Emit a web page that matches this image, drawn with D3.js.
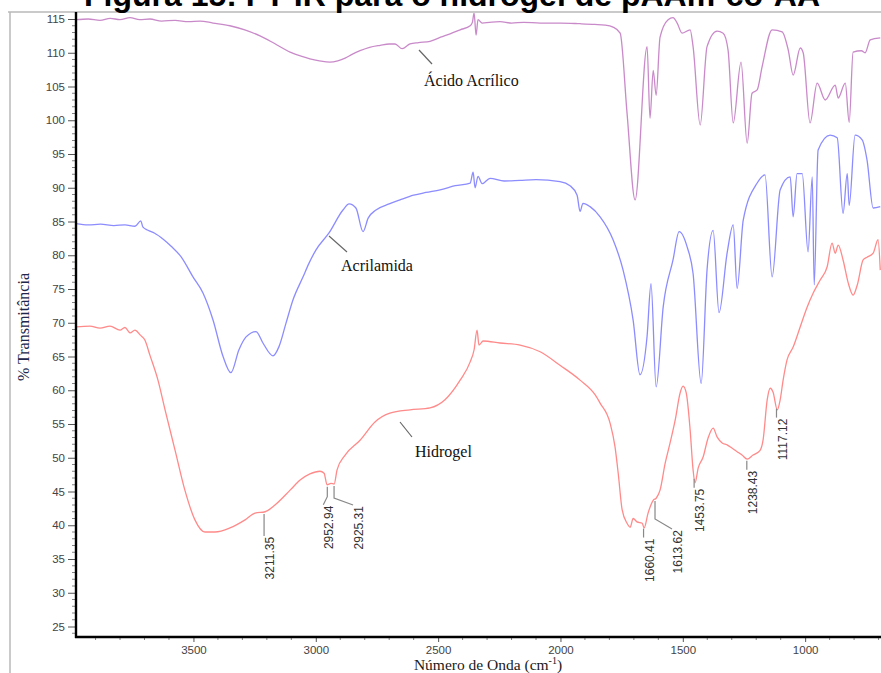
<!DOCTYPE html>
<html>
<head>
<meta charset="utf-8">
<script src="https://cdn.jsdelivr.net/npm/d3@7"></script>
<style>
  html, body { margin: 0; padding: 0; background: #fff; }
  svg { display: block; }
</style>
</head>
<body>
<svg id="chart" width="881" height="673"></svg>
<script>
// FT-IR spectra: wavenumber (cm-1) and % transmittance for each sample
const acidoWave = [3980,3930,3882,3840,3800,3759,3720,3678,3630,3575,3520,3473,3420,3351,3290,3228,3170,3105,3060,3024,2985,2942,2910,2880,2850,2819,2780,2737,2700,2676,2647,2615,2580,2533,2490,2451,2410,2369,2360,2353,2345,2337,2320,2290,2247,2200,2150,2083,2000,1920,1860,1818,1785,1756,1728,1695,1646,1634,1621,1609,1593,1560,1540,1523,1503,1470,1458,1429,1401,1360,1335,1315,1294,1262,1237,1217,1196,1176,1135,1094,1069,1049,1020,1008,980,951,918,877,865,836,820,804,770,755,734,693];
const acidoT    = [114.9,115.0,114.8,115.1,114.9,115.2,114.9,115.0,114.7,114.8,114.6,114.7,114.4,114.0,113.4,112.5,111.4,110.1,109.5,109.1,108.8,108.6,108.8,109.2,109.8,110.3,110.8,111.1,111.3,111.3,110.6,111.3,111.5,111.7,112.3,112.8,113.4,114.0,114.5,115.9,112.6,114.9,114.4,114.5,114.6,114.4,114.5,114.4,114.4,114.3,114.2,114.1,113.8,112.9,101.1,88.2,110.9,100.3,107.4,103.7,112.3,114.9,115.2,114.4,112.9,113.4,110.9,99.3,110.9,113.2,112.9,110.4,99.6,108.6,96.6,104.0,104.5,107.9,113.4,113.1,110.4,106.7,110.7,110.0,99.6,105.5,103.0,105.2,103.3,105.5,99.7,110.1,110.3,110.0,111.9,112.2];

const acrilWave = [3980,3930,3880,3825,3780,3739,3715,3707,3686,3660,3621,3590,3551,3502,3461,3420,3379,3347,3314,3285,3244,3216,3175,3150,3122,3093,3052,3028,2999,2946,2889,2864,2836,2807,2786,2754,2700,2656,2600,2550,2492,2430,2369,2357,2349,2337,2320,2288,2230,2165,2100,2002,1961,1932,1920,1908,1879,1838,1785,1744,1703,1675,1646,1630,1609,1580,1540,1515,1482,1458,1425,1401,1376,1352,1319,1294,1278,1253,1196,1164,1135,1102,1061,1049,1033,1012,988,971,963,947,898,869,845,828,820,796,767,747,722,693];
const acrilT    = [84.7,84.5,84.6,84.4,84.5,84.3,85.1,84.2,83.7,83.3,82.3,81.3,79.8,76.8,74.4,70.4,65.0,62.6,66.0,67.9,68.7,67.0,65.1,66.5,69.9,73.4,76.8,78.8,80.8,83.3,86.7,87.6,87.0,83.5,85.5,86.7,87.6,88.2,88.9,89.3,89.7,90.3,90.7,92.3,90.0,91.7,90.6,91.4,91.0,91.1,91.2,90.9,90.3,88.9,86.5,87.7,87.2,85.7,82.3,77.8,70.4,62.3,68.0,75.8,60.5,72.4,79.3,83.5,81.2,77.3,61.0,77.8,83.7,71.5,80.3,84.5,75.1,85.2,90.7,91.9,76.8,89.7,91.6,85.7,92.1,92.1,80.5,91.6,75.6,95.6,97.8,97.4,86.2,92.1,87.4,97.8,97.1,94.1,87.0,87.2];

const hidroWave = [3980,3923,3882,3841,3800,3780,3759,3739,3718,3698,3678,3645,3616,3575,3535,3494,3453,3412,3351,3289,3248,3207,3167,3105,3064,3024,2983,2966,2954,2938,2925,2913,2880,2819,2758,2697,2615,2533,2472,2410,2369,2353,2341,2333,2316,2247,2165,2083,2002,1920,1858,1838,1797,1777,1764,1748,1728,1715,1703,1687,1666,1658,1642,1621,1609,1593,1572,1552,1531,1511,1499,1486,1470,1458,1450,1437,1417,1397,1376,1360,1339,1319,1298,1278,1258,1237,1213,1184,1172,1155,1143,1131,1114,1102,1090,1074,1049,1020,992,967,939,910,890,877,865,845,824,804,787,763,747,722,702,693];
const hidroT    = [69.4,69.5,69.2,69.5,68.9,69.3,68.5,68.9,68.2,67.4,65.2,61.5,57.1,51.1,45.2,40.8,39.0,39.0,39.6,40.8,41.8,42.0,43.0,45.2,46.7,47.6,48.0,47.7,46.0,46.2,46.1,48.2,50.4,52.6,55.3,56.6,57.1,57.4,58.6,61.5,64.2,66.0,68.9,66.7,67.3,67.0,66.7,65.7,63.7,61.5,59.3,58.1,55.1,51.6,47.7,42.3,40.3,39.7,41.0,40.5,40.3,39.6,41.8,43.7,44.0,45.2,49.2,52.2,55.6,59.6,60.6,59.6,54.1,48.2,46.3,48.5,50.1,52.9,54.4,53.1,52.2,51.9,51.4,50.9,50.4,49.8,50.4,51.1,52.6,58.6,60.3,59.7,57.1,58.6,61.5,64.5,66.4,69.4,72.3,74.4,76.3,78.3,81.8,80.3,81.5,79.3,75.9,74.1,75.6,79.3,79.7,80.3,82.3,77.8];

// Peak positions marked on the hydrogel spectrum
const peakLabels = ["3211.35","2952.94","2925.31","1660.41","1613.62","1453.75","1238.43","1117.12"];
const peakWaves  = [3211.35, 2952.94, 2925.31, 1660.41, 1613.62, 1453.75, 1238.43, 1117.12];

// Axis ticks
const yTicks = [25,30,35,40,45,50,55,60,65,70,75,80,85,90,95,100,105,110,115];
const xTicks = [3500,3000,2500,2000,1500,1000];

// Texts
const titleText = "Figura 15: FT-IR para o hidrogel de pAAm-co-AA";
const seriesNames = ["Ácido Acrílico","Acrilamida","Hidrogel"];
const xTitle = "Número de Onda (cm";
const yTitle = "% Transmitância";

// ---------------------------------------------------------------
const svg = d3.select("#chart");
const W = 881, H = 673;
const mLeft = 76, mRight = 881, mTop = 12, mBottom = 637;

const x = d3.scaleLinear().domain([3980, 690]).range([mLeft, mRight]);
const y = d3.scaleLinear().domain([25, 115]).range([626.5, 19]);

// outer frame
svg.append("line").attr("x1", 10).attr("x2", 10).attr("y1", mTop).attr("y2", H)
   .attr("stroke", "#b8b8b8").attr("stroke-width", 1.5);
svg.append("line").attr("x1", 8).attr("x2", W).attr("y1", mTop).attr("y2", mTop)
   .attr("stroke", "#b8b8b8").attr("stroke-width", 1.5);

// title (partly above the page edge)
svg.append("text").attr("x", 452).attr("y", 6)
   .attr("text-anchor", "middle")
   .attr("font-family", "Liberation Sans, Arial, sans-serif")
   .attr("font-weight", "bold").attr("font-size", 32)
   .attr("fill", "#000").text(titleText);

// clip for plot area
svg.append("clipPath").attr("id", "plotclip")
   .append("rect").attr("x", mLeft).attr("y", mTop + 1).attr("width", mRight - mLeft).attr("height", mBottom - mTop);

// spectra
const series = [
  {wave: acidoWave, t: acidoT, color: "#c98ac9"},
  {wave: acrilWave, t: acrilT, color: "#8c8cff"},
  {wave: hidroWave, t: hidroT, color: "#ff8a8a"}
];
const line = d3.line().x(d => x(d[0])).y(d => y(d[1])).curve(d3.curveMonotoneX);
const g = svg.append("g").attr("clip-path", "url(#plotclip)");
series.forEach(s => {
  const pts = s.wave.map((w, i) => [w, s.t[i]]);
  g.append("path").datum(pts).attr("d", line)
   .attr("fill", "none").attr("stroke", s.color).attr("stroke-width", 1.3)
   .attr("stroke-linejoin", "round");
});

// y axis
const yAxis = d3.axisLeft(y).tickValues(yTicks).tickSize(8).tickPadding(3);
const ya = svg.append("g").attr("transform", `translate(${mLeft},0)`).call(yAxis);
ya.select(".domain").remove();
ya.selectAll("text").attr("font-family", "Liberation Sans, Arial, sans-serif")
  .attr("font-size", 11.5).attr("fill", "#444");
ya.selectAll("line").attr("stroke", "#555");
// minor y ticks
svg.append("g").selectAll("line").data(d3.range(24, 116, 1).filter(v => v % 5 !== 0))
  .join("line").attr("x1", mLeft - 4).attr("x2", mLeft).attr("y1", d => y(d)).attr("y2", d => y(d))
  .attr("stroke", "#666").attr("stroke-width", 0.8);

// x axis
const xAxis = d3.axisBottom(x).tickValues(xTicks).tickSize(5).tickPadding(4).tickFormat(d3.format("d"));
const xa = svg.append("g").attr("transform", `translate(0,${mBottom})`).call(xAxis);
xa.select(".domain").remove();
xa.selectAll("text").attr("font-family", "Liberation Sans, Arial, sans-serif")
  .attr("font-size", 11.5).attr("fill", "#444");
xa.selectAll("line").attr("stroke", "#555");
svg.append("g").selectAll("line").data(d3.range(3900, 690, -100).filter(v => v % 500 !== 0))
  .join("line").attr("x1", d => x(d)).attr("x2", d => x(d)).attr("y1", mBottom).attr("y2", mBottom + 3)
  .attr("stroke", "#666").attr("stroke-width", 0.8);

// axis lines
svg.append("line").attr("x1", mLeft).attr("x2", mLeft).attr("y1", mTop).attr("y2", mBottom + 1)
   .attr("stroke", "#000").attr("stroke-width", 2.4);
svg.append("line").attr("x1", mLeft - 1).attr("x2", mRight).attr("y1", mBottom).attr("y2", mBottom)
   .attr("stroke", "#000").attr("stroke-width", 2.4);

// axis titles
svg.append("text").attr("transform", "translate(29,327) rotate(-90)")
   .attr("text-anchor", "middle")
   .attr("font-family", "Liberation Serif, Times New Roman, serif")
   .attr("font-size", 16).attr("fill", "#22264a").text(yTitle);
const xt = svg.append("text").attr("x", 488).attr("y", 670).attr("text-anchor", "middle")
   .attr("font-family", "Liberation Serif, Times New Roman, serif")
   .attr("font-size", 15.5).attr("fill", "#1a1a1a");
xt.append("tspan").text(xTitle);
xt.append("tspan").attr("font-size", 10).attr("dy", -6).text("-1");
xt.append("tspan").attr("dy", 6).text(")");

// series name annotations with leader lines
const serif = "Liberation Serif, Times New Roman, serif";
const annot = [
  {name: seriesNames[0], lx1: 419, ly1: 50, lx2: 432, ly2: 64, tx: 424, ty: 86},
  {name: seriesNames[1], lx1: 329, ly1: 236, lx2: 347, ly2: 252, tx: 341, ty: 271},
  {name: seriesNames[2], lx1: 400, ly1: 422, lx2: 412, ly2: 437, tx: 415, ty: 457}
];
annot.forEach(a => {
  svg.append("line").attr("x1", a.lx1).attr("y1", a.ly1).attr("x2", a.lx2).attr("y2", a.ly2)
     .attr("stroke", "#666").attr("stroke-width", 1.2);
  svg.append("text").attr("x", a.tx).attr("y", a.ty).attr("font-family", serif)
     .attr("font-size", 16).attr("fill", "#111").text(a.name);
});

// peak markers on the hydrogel curve
function hidroAt(w) {
  const pts = hidroWave.map((v, i) => [v, hidroT[i]]);
  for (let i = 0; i < pts.length - 1; i++) {
    const a = pts[i], b = pts[i + 1];
    if (w <= a[0] && w >= b[0]) {
      const f = (a[0] - w) / (a[0] - b[0]);
      return a[1] + f * (b[1] - a[1]);
    }
  }
  return pts[pts.length - 1][1];
}
// leader layout: vertical drop, then optional diagonal offset
const peakLayout = [
  {drop: 22, dx: 0,  dy: 0},
  {drop: 10, dx: -4, dy: 8},
  {drop: 12, dx: 19, dy: 7},
  {drop: 9,  dx: 0,  dy: 0},
  {drop: 18, dx: 17, dy: 10},
  {drop: 9,  dx: 0,  dy: 0},
  {drop: 9,  dx: 0,  dy: 0},
  {drop: 9,  dx: 0,  dy: 0}
];
peakWaves.forEach((w, i) => {
  const L = peakLayout[i];
  const px = x(w), py = y(hidroAt(w)) + 2;
  const p2 = [px, py + L.drop];
  const p3 = [px + L.dx, py + L.drop + L.dy];
  svg.append("polyline").attr("points", [[px, py], p2, p3].map(p => p.join(",")).join(" "))
     .attr("fill", "none").attr("stroke", "#888").attr("stroke-width", 1.2);
  svg.append("text")
     .attr("transform", `translate(${p3[0] + 7},${p3[1] + 1}) rotate(-90)`)
     .attr("text-anchor", "end").attr("dominant-baseline", "middle")
     .attr("font-family", "Liberation Sans, Arial, sans-serif")
     .attr("font-size", 12).attr("fill", "#333").text(peakLabels[i]);
});
</script>
</body>
</html>
